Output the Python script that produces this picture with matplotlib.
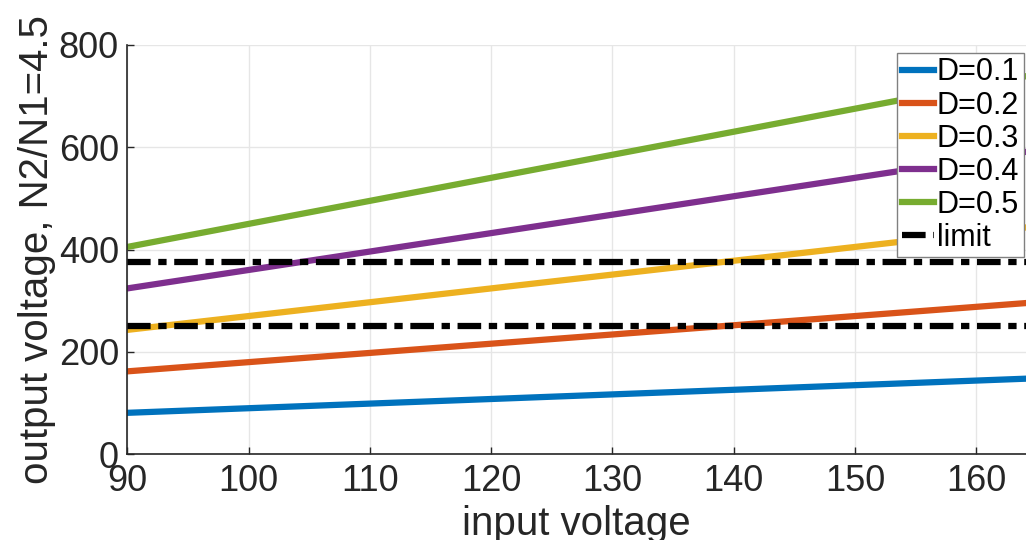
import matplotlib
matplotlib.use("Agg")
import matplotlib.pyplot as plt
import numpy as np

plt.rcParams['font.family'] = ['Liberation Sans', 'DejaVu Sans']
plt.rcParams['lines.scale_dashes'] = False

# input voltage range (endpoints of each straight line)
vin = [90, 165]
duty = ["D=0.1", "D=0.2", "D=0.3", "D=0.4", "D=0.5"]
vout = [
    [81, 148.5],
    [162, 297],
    [243, 445.5],
    [324, 594],
    [405, 742.5],
]
limits = [375, 250]
colors = ["#0072BD", "#D95319", "#EDB120", "#7E2F8E", "#77AC30"]

fig = plt.figure(figsize=(10.26, 5.4), dpi=100)
ax = fig.add_axes([127.3 / 1026, 1 - 454.3 / 540, (1026 - 127.3) / 1026, (454.3 - 44.7) / 540])

for lab, v, c in zip(duty, vout, colors):
    ax.plot(vin, v, color=c, lw=4.5, label=lab)
for i, lim in enumerate(limits):
    ax.plot(vin, [lim, lim], color="black", lw=4.5, dashes=(17, 5.5, 6, 5.5),
            label="limit" if i == 0 else None)

ax.set_xlim(90, 164.1)
ax.set_ylim(0, 800)
ax.set_xticks(np.arange(90, 161, 10))
ax.set_yticks(np.arange(0, 801, 200))
ax.grid(True, color="#e6e6e6", lw=1)
ax.set_axisbelow(True)
for s in ["top", "right"]:
    ax.spines[s].set_visible(False)
for s in ["left", "bottom"]:
    ax.spines[s].set_color("#262626")
    ax.spines[s].set_linewidth(1.2)
ax.tick_params(direction="in", length=5, width=1, colors="#262626", labelsize=26, pad=7)
ax.tick_params(axis="y", pad=6)
ax.set_xlabel("input voltage", fontsize=29, color="#262626", labelpad=4)
ax.set_ylabel("output voltage, N2/N1=4.5", fontsize=29, color="#262626", labelpad=2)

leg = ax.legend(loc="upper left", bbox_to_anchor=(0.8565, 0.98), fontsize=22, frameon=True,
                fancybox=False, edgecolor="#808080", framealpha=1, handlelength=1.05,
                handletextpad=0.1, borderpad=0.15, labelspacing=0.1, borderaxespad=0)
leg.get_frame().set_linewidth(1)

fig.savefig("out.png", dpi=100)
